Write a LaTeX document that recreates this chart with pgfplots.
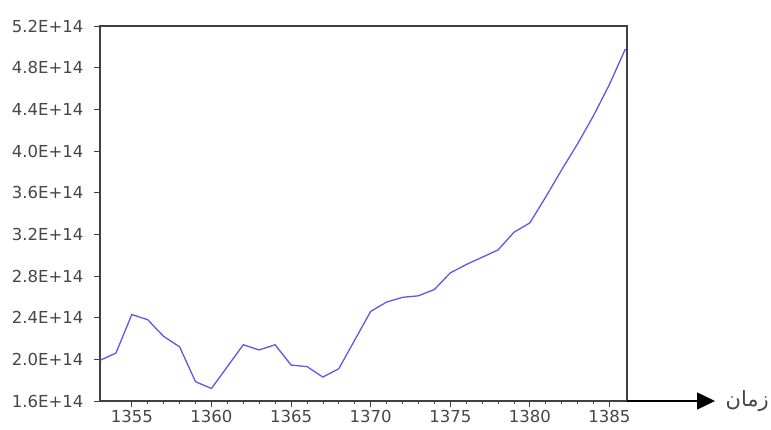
\documentclass[border=0pt]{standalone}
\usepackage{pgfplots}
\pgfplotsset{compat=1.18}
\usetikzlibrary{arrows.meta}
\usepackage{fontspec}
\setmainfont{DejaVu Sans}
\newfontfamily\arabicfont[Script=Arabic]{DejaVu Sans}
\TeXXeTstate=1
\definecolor{serie}{RGB}{90,90,230}
\definecolor{txt}{RGB}{70,70,70}

\begin{document}
\begin{tikzpicture}
  \path[use as bounding box] (-100pt,-28pt) rectangle (671pt,401pt);
  \begin{axis}[
      at={(0pt,0pt)}, anchor=south west,
      scale only axis,
      width=527pt, height=375pt,
      xmin=1353, xmax=1386.1,
      ymin=1.6e14, ymax=5.2e14,
      xtick={1355,1360,1365,1370,1375,1380,1385},
      xticklabels={1355,1360,1365,1370,1375,1380,1385},
      minor x tick num=4,
      ytick={1.6e14,2.0e14,2.4e14,2.8e14,3.2e14,3.6e14,4.0e14,4.4e14,4.8e14,5.2e14},
      yticklabels={1.6E+14,2.0E+14,2.4E+14,2.8E+14,3.2E+14,3.6E+14,4.0E+14,4.4E+14,4.8E+14,5.2E+14},
      scaled y ticks=false,
      tick align=outside,
      xtick pos=bottom, ytick pos=left,
      major tick length=6pt,
      minor tick length=3pt,
      tick style={black!75, line width=0.8pt},
      axis line style={black!75, line width=1.2pt},
      tick label style={text=txt, font=\fontsize{16.5}{17}\selectfont},
      yticklabel style={xshift=-7pt},
      clip=false,
    ]
    \addplot[serie, line width=1.3pt] coordinates {
      (1353, 1.99e14)
      (1354, 2.06e14)
      (1355, 2.43e14)
      (1356, 2.38e14)
      (1357, 2.22e14)
      (1358, 2.12e14)
      (1359, 1.785e14)
      (1360, 1.72e14)
      (1361, 1.93e14)
      (1362, 2.14e14)
      (1363, 2.09e14)
      (1364, 2.14e14)
      (1365, 1.945e14)
      (1366, 1.93e14)
      (1367, 1.83e14)
      (1368, 1.91e14)
      (1369, 2.185e14)
      (1370, 2.46e14)
      (1371, 2.55e14)
      (1372, 2.595e14)
      (1373, 2.61e14)
      (1374, 2.67e14)
      (1375, 2.83e14)
      (1376, 2.91e14)
      (1377, 2.98e14)
      (1378, 3.05e14)
      (1379, 3.22e14)
      (1380, 3.31e14)
      (1381, 3.56e14)
      (1382, 3.82e14)
      (1383, 4.07e14)
      (1384, 4.34e14)
      (1385, 4.64e14)
      (1386, 4.98e14)
    };
    % arrow of the time axis
    \draw[black, line width=1.5pt, -{Triangle[length=18pt,width=17pt]}]
      (rel axis cs:1,0) -- ++(88pt,0pt);
    \node[anchor=east, text=txt, inner sep=0pt,
          font=\arabicfont\fontsize{21}{21}\selectfont]
      at ([xshift=142pt]rel axis cs:1,0) {\beginR زمان\endR};
  \end{axis}
\end{tikzpicture}
\end{document}
